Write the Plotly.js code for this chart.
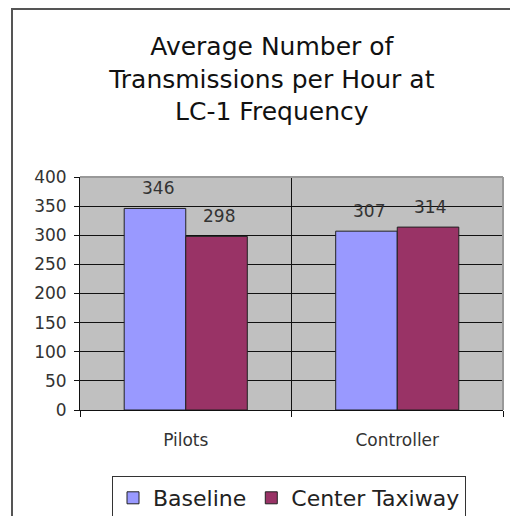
<!DOCTYPE html>
<html>
<head>
<meta charset="utf-8">
<script src="https://cdn.plot.ly/plotly-3.0.1.min.js"></script>
<style>html,body{margin:0;padding:0;background:#fff;}#chart{width:510px;height:516px;}</style>
</head>
<body>
<div id="chart"></div>
<script>
const categories = ["Pilots", "Controller"];
const seriesNames = ["Baseline", "Center Taxiway"];
const baseline = [346, 307];
const centerTaxiway = [298, 314];
const yTicks = [0, 50, 100, 150, 200, 250, 300, 350, 400];
const titleText = "Average Number of<br>Transmissions per Hour at<br>LC-1 Frequency";

const FONT = "DejaVu Sans, Verdana, sans-serif";
const colors = ["#9999FF", "#993366"];
const allSeries = [baseline, centerTaxiway];

const traces = allSeries.map((vals, i) => ({
  type: "bar",
  name: seriesNames[i],
  x: categories,
  y: vals,
  marker: {color: colors[i], line: {color: "#222", width: 1}},
  hoverinfo: "none"
}));

const xshifts = [-28, 33];
const annotations = [];
allSeries.forEach((vals, i) => {
  vals.forEach((v, j) => {
    annotations.push({
      x: categories[j], y: v, xref: "x", yref: "y",
      text: String(v), showarrow: false,
      xshift: xshifts[i], yshift: 20, yanchor: "middle",
      font: {family: FONT, size: 17, color: "#333"}
    });
  });
});

const layout = {
  width: 510, height: 516,
  margin: {l: 80, r: 7, t: 177, b: 106, autoexpand: false},
  paper_bgcolor: "#fff",
  plot_bgcolor: "#C0C0C0",
  font: {family: FONT, size: 17, color: "#333"},
  title: {
    text: titleText,
    font: {family: FONT, size: 25, color: "#111"},
    xref: "container", x: 0.533, xanchor: "center",
    yref: "container", y: 1 - 55/516, yanchor: "top"
  },
  barmode: "group",
  bargap: 0.418,
  bargroupgap: 0,
  xaxis: {
    type: "category",
    automargin: false,
    tickson: "boundaries",
    showgrid: true, gridcolor: "#111", gridwidth: 1,
    showline: true, linecolor: "#111", linewidth: 1,
    ticks: "outside", ticklen: 6, tickcolor: "#111",
    ticklabelstandoff: 15,
    tickfont: {family: FONT, size: 17, color: "#333"},
    fixedrange: true
  },
  yaxis: {
    automargin: false,
    range: [0, 400],
    tickvals: yTicks,
    ticktext: yTicks.map(String),
    showgrid: true, gridcolor: "#111", gridwidth: 1,
    zeroline: false,
    showline: true, linecolor: "#111", linewidth: 1,
    ticks: "outside", ticklen: 5, tickcolor: "#111",
    ticklabelstandoff: 4,
    tickfont: {family: FONT, size: 17, color: "#333"},
    fixedrange: true
  },
  showlegend: true,
  legend: {
    orientation: "h",
    x: (112 - 80) / 423, xanchor: "left",
    yref: "container",
    y: (516 - 476) / 516, yanchor: "top",
    bordercolor: "#333", borderwidth: 1,
    bgcolor: "#fff",
    font: {family: FONT, size: 22, color: "#222"},
    itemwidth: 30,
    tracegroupgap: 0
  },
  annotations: annotations,
  shapes: [
    {type: "rect", xref: "paper", yref: "paper",
     x0: (12 - 80) / 423, x1: 1.3, y0: -1, y1: (410 - 9) / 233,
     line: {color: "#555", width: 2}, layer: "below"},
    {type: "line", xref: "paper", yref: "paper", x0: 0, x1: 1, y0: 1, y1: 1,
     line: {color: "#999", width: 2}, layer: "above"},
    {type: "line", xref: "paper", yref: "paper", x0: 1, x1: 1, y0: 0, y1: 1,
     line: {color: "#999", width: 2}, layer: "above"}
  ]
};

Plotly.newPlot("chart", traces, layout, {displayModeBar: false, staticPlot: true});
</script>
</body>
</html>
